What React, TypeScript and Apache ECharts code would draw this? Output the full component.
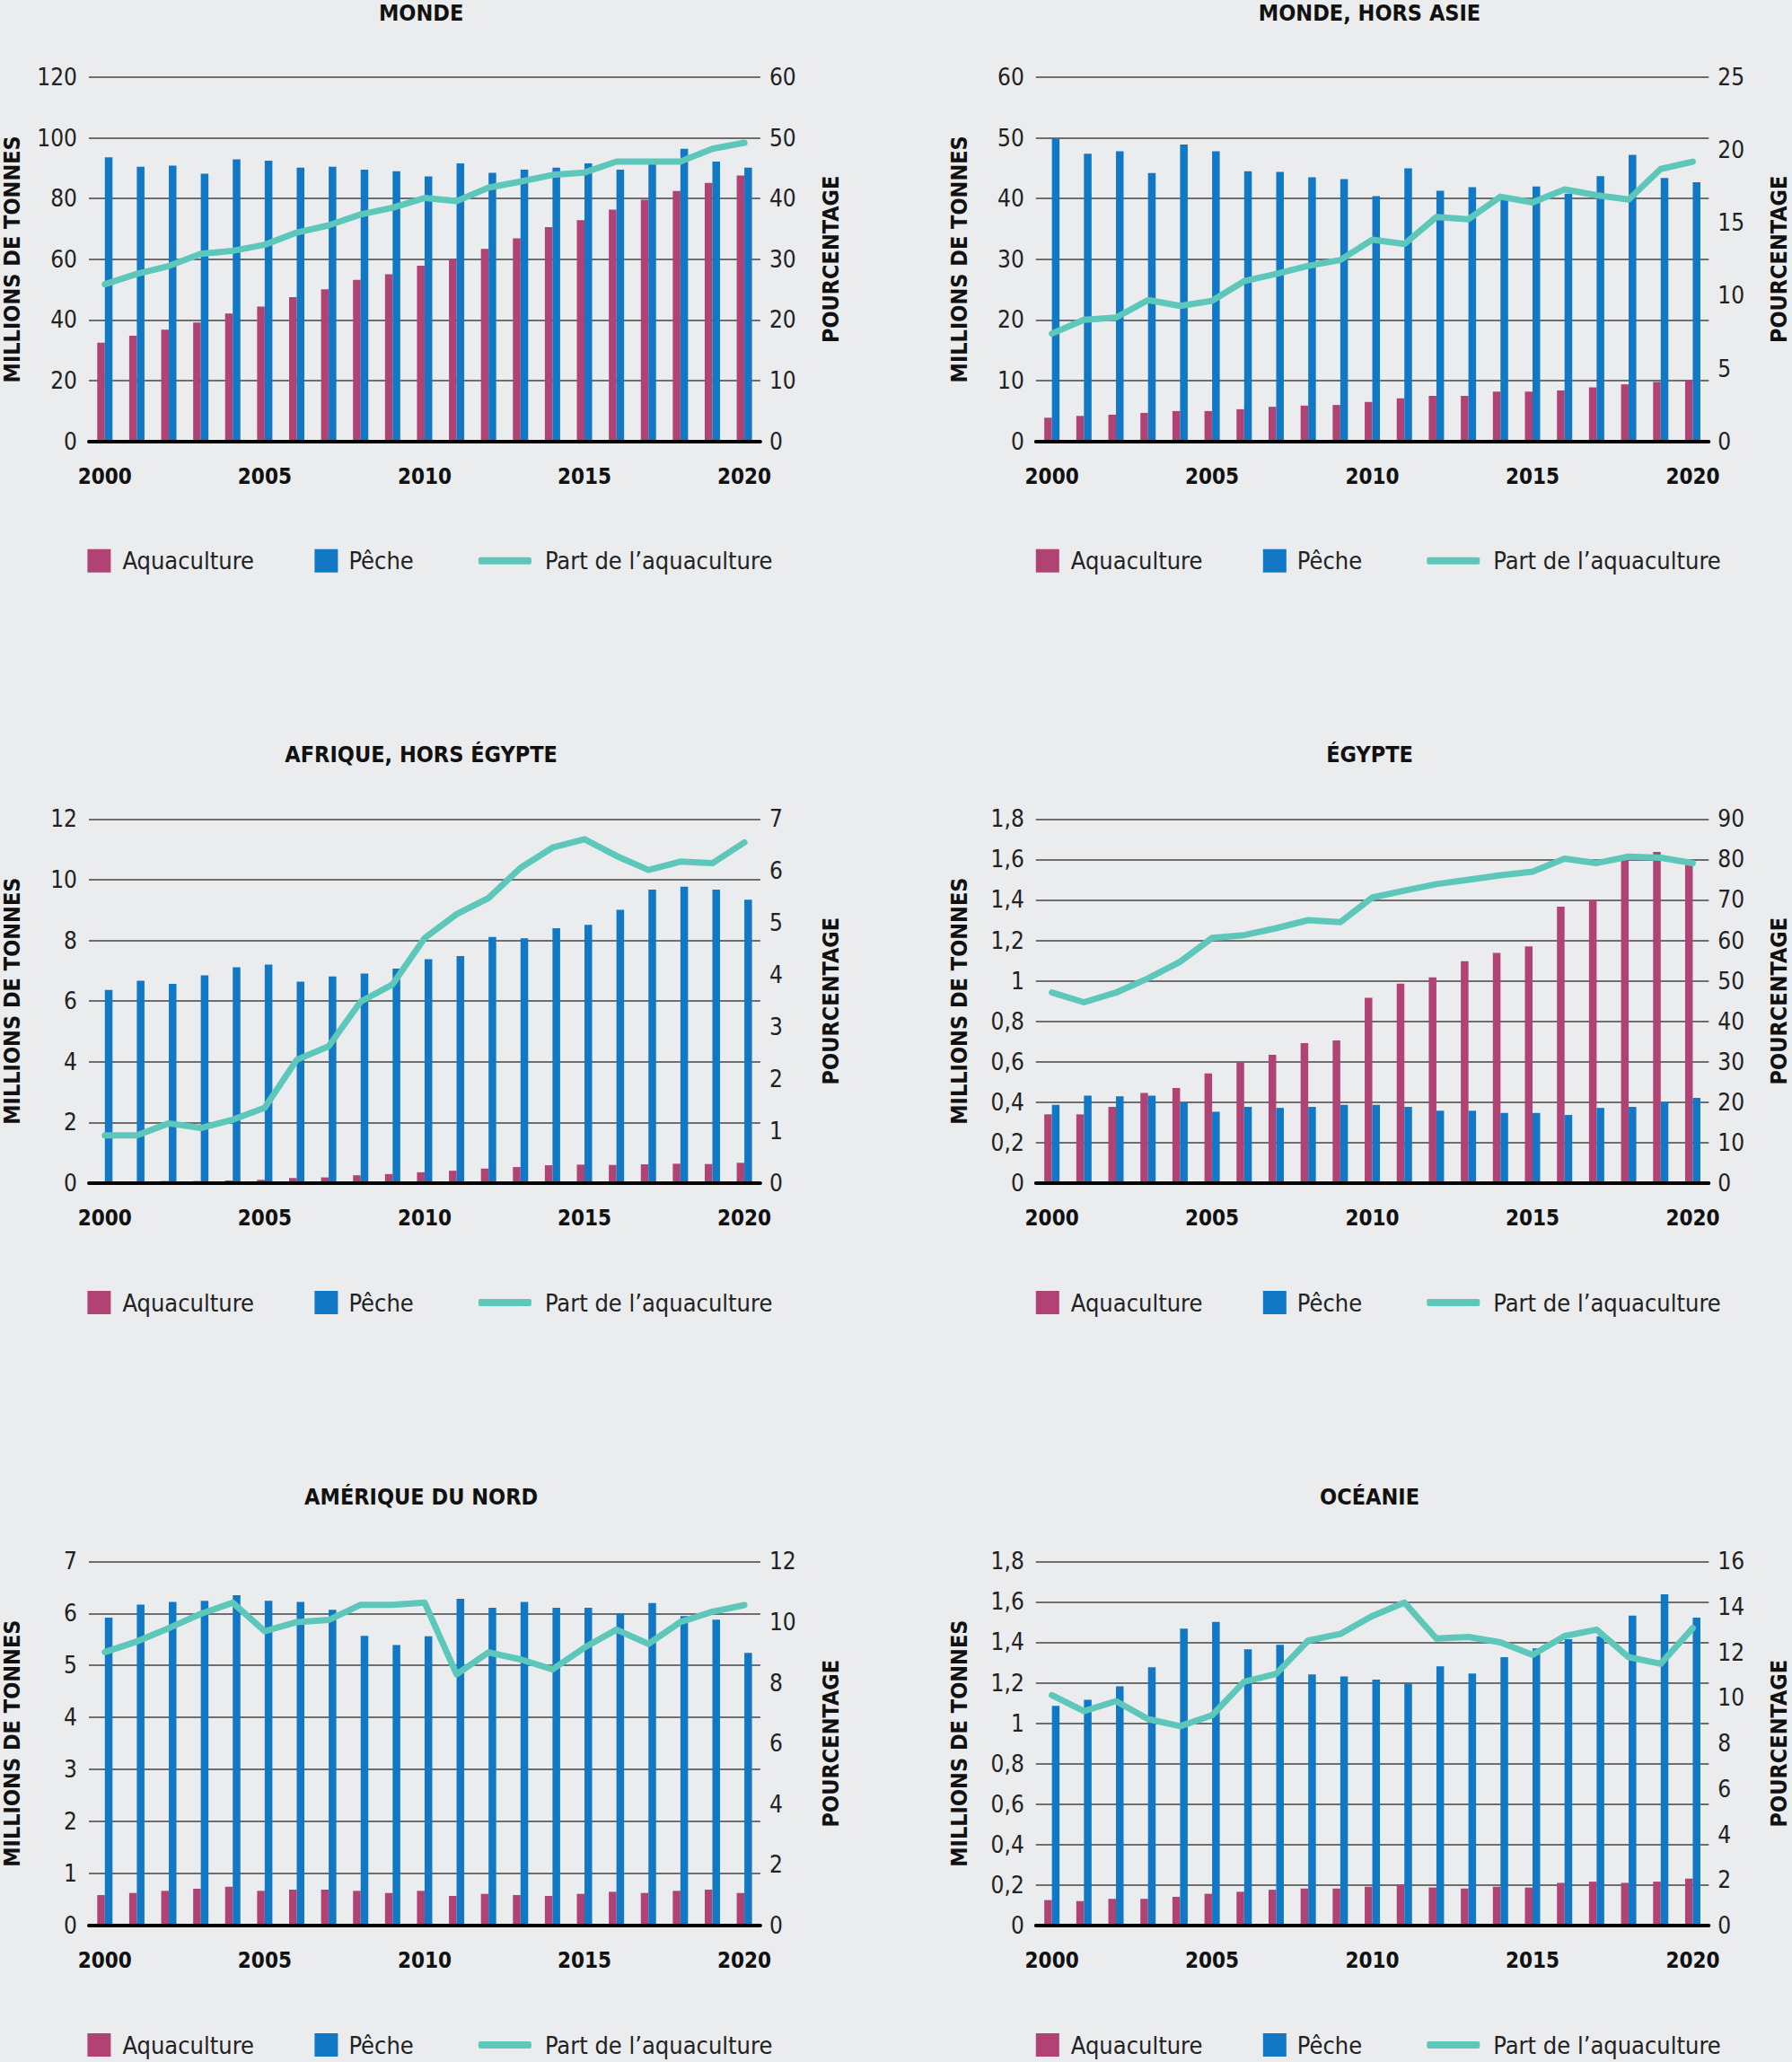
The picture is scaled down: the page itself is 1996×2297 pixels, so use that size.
import React, { useEffect, useRef } from "react";
import * as echarts from "echarts";

const years = ["2000","2001","2002","2003","2004","2005","2006","2007","2008","2009","2010","2011","2012","2013","2014","2015","2016","2017","2018","2019","2020"];

const mondeAqua = [32.5,34.8,36.8,39.2,42.1,44.4,47.5,50.1,53.2,55.1,57.9,60.0,63.4,66.9,70.6,72.9,76.4,79.6,82.5,85.2,87.6];
const mondePeche = [93.6,90.5,90.9,88.2,92.9,92.5,90.2,90.5,89.5,89.0,87.3,91.6,88.5,89.5,90.2,91.6,89.5,91.9,96.4,92.2,90.2];
const mondePart = [25.9,27.6,28.9,30.9,31.4,32.4,34.4,35.6,37.4,38.5,40.1,39.6,41.8,42.8,43.9,44.3,46.1,46.1,46.1,48.2,49.2];

const horsAsieAqua = [3.9,4.2,4.4,4.7,5.0,5.0,5.3,5.7,5.9,6.0,6.5,7.1,7.5,7.5,8.2,8.2,8.4,8.9,9.4,9.8,10.1];
const horsAsiePeche = [49.9,47.4,47.8,44.2,48.9,47.8,44.5,44.4,43.5,43.2,40.4,45.0,41.3,41.9,40.6,42.0,40.8,43.7,47.2,43.4,42.7];
const horsAsiePart = [7.4,8.35,8.5,9.7,9.3,9.65,11.0,11.5,12.05,12.45,13.85,13.55,15.4,15.25,16.8,16.4,17.3,16.9,16.6,18.7,19.2];

const afriqueAqua = [0.06,0.06,0.07,0.07,0.09,0.11,0.17,0.19,0.26,0.3,0.36,0.41,0.48,0.53,0.59,0.61,0.6,0.62,0.64,0.63,0.67];
const afriquePeche = [6.37,6.67,6.57,6.85,7.11,7.2,6.64,6.81,6.91,7.07,7.38,7.48,8.11,8.07,8.4,8.51,9.01,9.67,9.77,9.67,9.34];
const afriquePart = [0.92,0.92,1.15,1.06,1.22,1.45,2.37,2.63,3.49,3.82,4.71,5.17,5.48,6.06,6.45,6.61,6.29,6.02,6.18,6.15,6.55];

const egypteAqua = [0.34,0.34,0.377,0.446,0.47,0.542,0.596,0.635,0.692,0.706,0.916,0.986,1.017,1.097,1.138,1.17,1.367,1.401,1.6,1.637,1.59];
const egyptePeche = [0.387,0.433,0.429,0.433,0.399,0.353,0.377,0.372,0.377,0.387,0.387,0.377,0.358,0.358,0.347,0.347,0.337,0.372,0.377,0.399,0.421];
const egyptePart = [47.1,44.7,47.1,50.6,54.7,60.6,61.3,63.0,65.0,64.5,70.6,72.3,73.9,75.0,76.1,77.0,80.2,79.1,80.7,80.4,79.1];

const amNordAqua = [0.586,0.626,0.667,0.707,0.747,0.667,0.69,0.69,0.667,0.626,0.667,0.569,0.609,0.586,0.569,0.609,0.649,0.626,0.667,0.69,0.626];
const amNordPeche = [5.92,6.17,6.22,6.24,6.35,6.24,6.22,6.07,5.57,5.39,5.56,6.28,6.11,6.22,6.11,6.11,6.0,6.2,5.95,5.88,5.24];
const amNordPart = [9.01,9.36,9.8,10.27,10.64,9.7,10.0,10.07,10.57,10.57,10.64,8.28,9.0,8.77,8.44,9.16,9.75,9.28,10.0,10.34,10.56];

const oceanieAqua = [0.126,0.121,0.132,0.132,0.142,0.157,0.167,0.177,0.183,0.183,0.192,0.202,0.188,0.183,0.192,0.188,0.211,0.217,0.211,0.217,0.232];
const oceaniePeche = [1.086,1.116,1.182,1.277,1.467,1.501,1.365,1.388,1.241,1.231,1.216,1.197,1.281,1.246,1.327,1.37,1.415,1.43,1.532,1.637,1.522];
const oceaniePart = [10.12,9.42,9.86,9.07,8.76,9.24,10.71,11.06,12.52,12.81,13.6,14.19,12.61,12.68,12.44,11.89,12.72,13.0,11.79,11.5,13.07];

const panelTitles = ["MONDE", "MONDE, HORS ASIE", "AFRIQUE, HORS ÉGYPTE", "ÉGYPTE", "AMÉRIQUE DU NORD", "OCÉANIE"];
const leftScales = [[120, 20], [60, 10], [12, 2], [1.8, 0.2], [7, 1], [1.8, 0.2]];
const rightScales = [[60, 10], [25, 5], [7, 1], [90, 10], [12, 2], [16, 2]];
const seriesNames = ["Aquaculture", "Pêche", "Part de l\u2019aquaculture"];
const leftAxisName = "MILLIONS DE TONNES";
const rightAxisName = "POURCENTAGE";

const panelData = [
  [mondeAqua, mondePeche, mondePart],
  [horsAsieAqua, horsAsiePeche, horsAsiePart],
  [afriqueAqua, afriquePeche, afriquePart],
  [egypteAqua, egyptePeche, egyptePart],
  [amNordAqua, amNordPeche, amNordPart],
  [oceanieAqua, oceaniePeche, oceaniePart],
];

const W = 1996;
const H = 2297;
const BG = "#EBECEE";
const PINK = "#B04274";
const BLUE = "#1078C4";
const TEAL = "#5DC7BA";
const FONT = "'Liberation Sans Narrow', 'DejaVu Sans Condensed', 'Roboto', sans-serif";

const colLeft = [97.4, 1153.8];
const plotW = 749.5;
const rowTop = [86, 912.3, 1739.3];
const plotH = 405.7;

const fmt = (v: number) => String(Number(v.toFixed(2))).replace(".", ",");

function buildOption() {
  const grid: any[] = [];
  const xAxis: any[] = [];
  const yAxis: any[] = [];
  const series: any[] = [];
  const legend: any[] = [];
  const title: any[] = [];

  panelTitles.forEach((t, i) => {
    const L = colLeft[i % 2];
    const T = rowTop[Math.floor(i / 2)];
    const B = T + plotH;
    grid.push({ left: L, top: T, width: plotW, height: plotH, containLabel: false });
    title.push({
      text: t,
      left: L + plotW / 2 - 3,
      textAlign: "center",
      top: T - 87,
      padding: 0,
      textStyle: { fontFamily: FONT, fontSize: 25, fontWeight: "bold", color: "#111", lineHeight: 30 },
    });
    xAxis.push({
      type: "category",
      gridIndex: i,
      data: years,
      boundaryGap: true,
      z: 5,
      axisTick: { show: false },
      axisLine: { show: true, lineStyle: { color: "#000", width: 4 } },
      axisLabel: { interval: 4, margin: 27, fontFamily: FONT, fontSize: 24, fontWeight: "bold", color: "#111" },
    });
    yAxis.push({
      type: "value",
      gridIndex: i,
      position: "left",
      min: 0,
      max: leftScales[i][0],
      interval: leftScales[i][1],
      axisLine: { show: false },
      axisTick: { show: false },
      splitLine: { show: true, lineStyle: { color: "#444", width: 1.5 } },
      axisLabel: { margin: 13, fontFamily: FONT, fontSize: 26, color: "#222", formatter: fmt },
      name: leftAxisName,
      nameLocation: "middle",
      nameRotate: 90,
      nameGap: 73,
      nameTextStyle: { fontFamily: FONT, fontSize: 25, fontWeight: "bold", color: "#111" },
    });
    yAxis.push({
      type: "value",
      gridIndex: i,
      position: "right",
      min: 0,
      max: rightScales[i][0],
      interval: rightScales[i][1],
      axisLine: { show: false },
      axisTick: { show: false },
      splitLine: { show: false },
      axisLabel: { margin: 10, fontFamily: FONT, fontSize: 26, color: "#222", formatter: fmt },
      name: rightAxisName,
      nameLocation: "middle",
      nameRotate: 90,
      nameGap: 66,
      nameTextStyle: { fontFamily: FONT, fontSize: 25, fontWeight: "bold", color: "#111" },
    });
    const [aq, pe, pa] = panelData[i];
    series.push({
      type: "bar", name: seriesNames[0], xAxisIndex: i, yAxisIndex: 2 * i,
      data: aq, barWidth: 8.5, barGap: "0%", itemStyle: { color: PINK },
    });
    series.push({
      type: "bar", name: seriesNames[1], xAxisIndex: i, yAxisIndex: 2 * i,
      data: pe, barWidth: 8.5, barGap: "0%", itemStyle: { color: BLUE },
    });
    series.push({
      type: "line", name: seriesNames[2], xAxisIndex: i, yAxisIndex: 2 * i + 1,
      data: pa, symbol: "none", z: 4,
      lineStyle: { color: TEAL, width: 7, cap: "round", join: "round" },
      itemStyle: { color: TEAL },
    });
    const c = B + 133;
    const LH = 30;
    const ts = { fontFamily: FONT, fontSize: 27, color: "#222", lineHeight: LH };
    legend.push({
      data: [{ name: seriesNames[0], icon: "rect" }],
      left: L - 5, top: c - LH / 2 - 5, itemWidth: 26, itemHeight: 26, selectedMode: false,
      textStyle: { ...ts, padding: [0, 0, 0, 8] },
    });
    legend.push({
      data: [{ name: seriesNames[1], icon: "rect" }],
      left: L + 248, top: c - LH / 2 - 5, itemWidth: 26, itemHeight: 26, selectedMode: false,
      textStyle: { ...ts, padding: [0, 0, 0, 7] },
    });
    legend.push({
      data: [{ name: seriesNames[2], icon: "roundRect" }],
      left: L + 430.5, top: c - LH / 2 - 5, itemWidth: 59, itemHeight: 8, selectedMode: false,
      textStyle: { ...ts, padding: [0, 0, 0, 10] },
    });
  });

  return {
    animation: false,
    backgroundColor: BG,
    textStyle: { fontFamily: FONT },
    title, grid, xAxis, yAxis, series, legend,
  };
}

export default function App() {
  const ref = useRef<HTMLDivElement>(null);
  useEffect(() => {
    document.body.style.margin = "0";
    document.body.style.background = BG;
    if (!ref.current) return;
    const chart = echarts.init(ref.current, undefined, { renderer: "svg", width: W, height: H });
    chart.setOption(buildOption() as any);
    return () => chart.dispose();
  }, []);
  return <div ref={ref} style={{ position: "absolute", left: 0, top: 0, width: W, height: H, background: BG }} />;
}
